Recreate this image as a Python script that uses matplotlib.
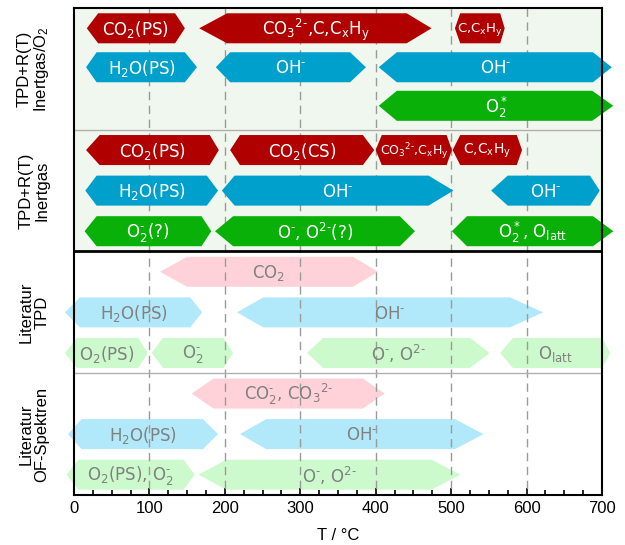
import matplotlib
matplotlib.use("Agg")
import matplotlib.pyplot as plt
from matplotlib.patches import Polygon
from matplotlib.transforms import blended_transform_factory
from matplotlib.ticker import MultipleLocator

plt.rcParams['mathtext.fontset'] = 'dejavusans'
plt.rcParams['mathtext.default'] = 'regular'

M = r"\text{-}"   # short superscript hyphen

# ---- data ----
# row index (0..11, top to bottom), left tip, left flat, right flat, right tip (°C)
bar_rows = [0, 0, 0,
            1, 1, 1,
            2,
            3, 3, 3, 3,
            4, 4, 4,
            5, 5, 5,
            6,
            7, 7,
            8, 8, 8, 8,
            9,
            10, 10,
            11, 11]
bar_tip_left = [17, 166, 505,
                16, 188, 404,
                404,
                16, 207, 400, 502,
                15, 196, 553,
                14, 187, 501,
                114,
                -12, 216,
                -12, 103, 309, 565,
                156,
                -8, 220,
                -10, 165]
bar_flat_left = [32, 203, 512,
                 30, 207, 428,
                 428,
                 34, 220, 408, 512,
                 30, 213, 575,
                 30, 211, 521,
                 150,
                 8, 251,
                 4, 118, 330, 582,
                 185,
                 10, 255,
                 6, 202]
bar_flat_right = [134, 441, 565,
                  147, 366, 688,
                  687,
                  180, 383, 494, 587,
                  176, 470, 684,
                  169, 432, 688,
                  370,
                  154, 578,
                  85, 198, 525, 700,
                  383,
                  171, 505,
                  145, 474]
bar_tip_right = [147, 474, 571,
                 163, 387, 713,
                 715,
                 192, 398, 501, 594,
                 191, 503, 697,
                 182, 452, 715,
                 403,
                 170, 622,
                 98, 211, 551, 711,
                 412,
                 191, 543,
                 160, 512]
bar_labels = ["CO$_2$(PS)", "CO$_3$$^{2" + M + "}$,C,C$_x$H$_y$", "C,C$_x$H$_y$",
              "H$_2$O(PS)", "OH$^{" + M + "}$", "OH$^{" + M + "}$",
              "O$^*_2$",
              "CO$_2$(PS)", "CO$_2$(CS)", "CO$_3$$^{2" + M + "}$,C$_x$H$_y$", "C,C$_x$H$_y$",
              "H$_2$O(PS)", "OH$^{" + M + "}$", "OH$^{" + M + "}$",
              "O$^{" + M + "}_2$(?)", "O$^{" + M + "}$, O$^{2" + M + "}$(?)", "O$^*_2$, O$_{latt}$",
              "CO$_2$",
              "H$_2$O(PS)", "OH$^{" + M + "}$",
              "O$_2$(PS)", "O$^{" + M + "}_2$", "O$^{" + M + "}$, O$^{2" + M + "}$", "O$_{latt}$",
              "CO$^{" + M + "}_2$, CO$_3$$^{2" + M + "}$",
              "H$_2$O(PS)", "OH$^{" + M + "}$",
              "O$_2$(PS), O$^{" + M + "}_2$", "O$^{" + M + "}$, O$^{2" + M + "}$"]
bar_fontsize = [12, 12, 9.5,
                12, 12, 12,
                12,
                12, 12, 9, 10,
                12, 12, 12,
                12, 12, 12,
                12,
                12, 12,
                12, 12, 12, 12,
                12,
                12, 12,
                12, 12]

row_colors = ["#b00000", "#00a0cd", "#08b008",
              "#b00000", "#00a0cd", "#08b008",
              "#ffd2da", "#b2e9fa", "#ccfacc",
              "#ffd2da", "#b2e9fa", "#ccfacc"]

section_titles = ["TPD+R(T)\nInertgas/O$_2$", "TPD+R(T)\nInertgas",
                  "Literatur\nTPD", "Literatur\nOF-Spektren"]
x_ticks = [0, 100, 200, 300, 400, 500, 600, 700]
grid_x = [100, 200, 300, 400, 500, 600]

# small vertical layout tweaks per row (data units)
row_shift = [0, -0.04, -0.09, 0, 0, 0, 0, 0, 0, 0, 0, 0]

# ---- figure ----
fig = plt.figure(figsize=(6.25, 5.45), dpi=100)
ax = fig.add_axes([74/625, 50/545, 528/625, 487/545])
ax.set_xlim(0, 700)
ax.set_ylim(12, 0)

ax.axhspan(0, 6, color="#f0f7ee", zorder=0, lw=0)

for gx in grid_x:
    ax.plot([gx, gx], [0, 12], color="#9a9a9a", lw=1.0, dashes=(6, 4), zorder=2)

ax.axhline(3, color="#b0b0b0", lw=1.0, zorder=2)
ax.axhline(9, color="#b0b0b0", lw=1.0, zorder=2)
ax.axhline(6, color="black", lw=2.0, zorder=4)

h = 0.74
for r, a, b, c, d, lab, fs in zip(bar_rows, bar_tip_left, bar_flat_left,
                                   bar_flat_right, bar_tip_right, bar_labels, bar_fontsize):
    yc = r + 0.5 + row_shift[r]
    top_section = r < 6
    poly = Polygon([(a, yc), (b, yc - h/2), (c, yc - h/2), (d, yc),
                    (c, yc + h/2), (b, yc + h/2)], closed=True,
                   facecolor=row_colors[r], edgecolor="none",
                   zorder=3 if top_section else 1, clip_on=False)
    ax.add_patch(poly)
    ax.text((a + d) / 2, yc + 0.03, lab, ha="center", va="center", fontsize=fs,
            color="white" if top_section else "#808080",
            family="DejaVu Sans", zorder=5)

trans = blended_transform_factory(ax.transAxes, ax.transData)
for i, t in enumerate(section_titles):
    ax.text(-0.076, 1.5 + 3 * i, t, rotation=90, ha="center", va="center",
            multialignment="center", fontsize=12, family="Liberation Sans",
            transform=trans, linespacing=1.05)

ax.set_yticks([])
ax.set_xticks(x_ticks)
ax.set_xticklabels([str(v) for v in x_ticks], family="Liberation Sans", fontsize=12)
ax.xaxis.set_minor_locator(MultipleLocator(25))
ax.tick_params(axis="x", which="major", direction="in", length=5, width=1.2, pad=4)
ax.tick_params(axis="x", which="minor", direction="in", length=3.5, width=1.2)
for s in ax.spines.values():
    s.set_linewidth(1.5)
    s.set_color("black")
    s.set_zorder(6)
ax.set_xlabel("T / °C", family="Liberation Sans", fontsize=12, labelpad=9)

fig.savefig("out.png", dpi=100)
